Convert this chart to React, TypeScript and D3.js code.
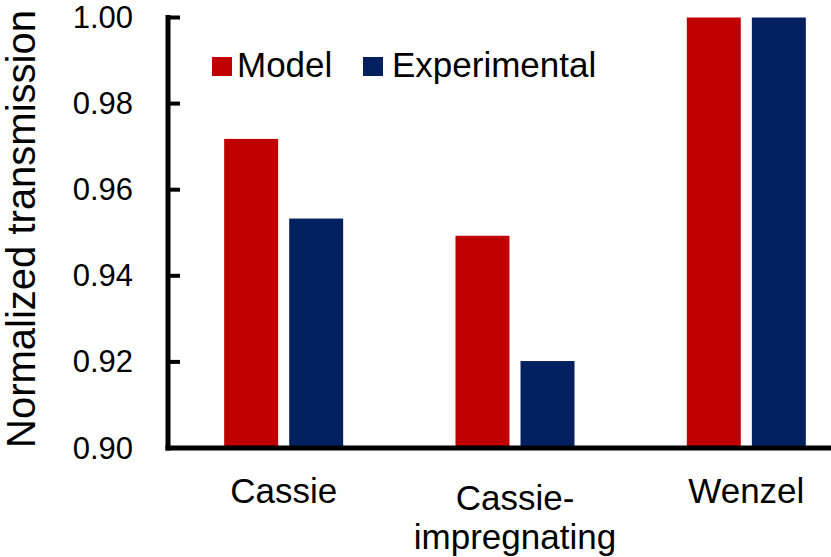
import React from "react";
import * as d3 from "d3";

const categories = ["Cassie", "Cassie-impregnating", "Wenzel"];
const categoryLines = [["Cassie"], ["Cassie-", "impregnating"], ["Wenzel"]];
const seriesNames = ["Model", "Experimental"];
const modelValues = [0.9718, 0.9493, 1.0];
const experimentalValues = [0.9533, 0.9202, 1.0];
const yTicks = [0.9, 0.92, 0.94, 0.96, 0.98, 1.0];
const colors = ["#C00000", "#002060"];

const W = 831;
const H = 557;
const FONT = "'Liberation Sans', Arial, sans-serif";

export default function App() {
  const axisX = 168;
  const axisY = 448;
  const y = d3.scaleLinear().domain([0.9, 1.0]).range([axisY, 17.5]);
  const x = d3.scaleBand<string>().domain(categories).range([axisX, axisX + 3 * 231.33]).padding(0);
  const step = x.step();
  const groupW = 119;
  const inner = d3
    .scaleBand<string>()
    .domain(seriesNames)
    .range([step / 2 - groupW / 2, step / 2 + groupW / 2])
    .paddingInner(0.17)
    .paddingOuter(0);
  const seriesValues = [modelValues, experimentalValues];

  return (
    <svg
      width={W}
      height={H}
      style={{ position: "absolute", left: 0, top: 0, background: "#fff" }}
      fontFamily={FONT}
    >
      <rect x={0} y={0} width={W} height={H} fill="#fff" />
      {categories.map((c, ci) =>
        seriesNames.map((s, si) => {
          const v = seriesValues[si][ci];
          const x0 = (x(c) as number) + (inner(s) as number);
          return (
            <rect
              key={c + s}
              x={x0}
              y={y(v)}
              width={inner.bandwidth()}
              height={y(0.9) - y(v)}
              fill={colors[si]}
            />
          );
        })
      )}
      {/* axes */}
      <line x1={axisX} x2={axisX} y1={15} y2={axisY + 2.5} stroke="#000" strokeWidth={5} />
      <line x1={axisX - 2.5} x2={W} y1={axisY} y2={axisY} stroke="#000" strokeWidth={5} />
      {yTicks.map((t) => (
        <g key={t}>
          <line x1={axisX} x2={180} y1={y(t)} y2={y(t)} stroke="#000" strokeWidth={4} />
          <text
            x={133}
            y={y(t)}
            textAnchor="end"
            dominantBaseline="central"
            fontSize={31}
            fill="#000"
          >
            {d3.format(".2f")(t)}
          </text>
        </g>
      ))}
      {/* category labels */}
      {categories.map((c, ci) => {
        const lines = categoryLines[ci];
        const cx = (x(c) as number) + step / 2;
        const base = lines.length > 1 ? 510 : 503;
        return (
          <text key={c} x={cx} textAnchor="middle" fontSize={35} fill="#000">
            {lines.map((l, li) => (
              <tspan key={l} x={cx} y={base + li * 39}>
                {l}
              </tspan>
            ))}
          </text>
        );
      })}
      {/* y title */}
      <text
        transform="translate(35,229) rotate(-90)"
        textAnchor="middle"
        fontSize={40}
        fill="#000"
      >
        Normalized transmission
      </text>
      {/* legend */}
      <rect x={212} y={57} width={20} height={19} fill={colors[0]} />
      <text x={237} y={77} fontSize={35} fill="#000">
        {seriesNames[0]}
      </text>
      <rect x={363} y={57} width={20} height={19} fill={colors[1]} />
      <text x={392} y={77} fontSize={35} fill="#000">
        {seriesNames[1]}
      </text>
    </svg>
  );
}
